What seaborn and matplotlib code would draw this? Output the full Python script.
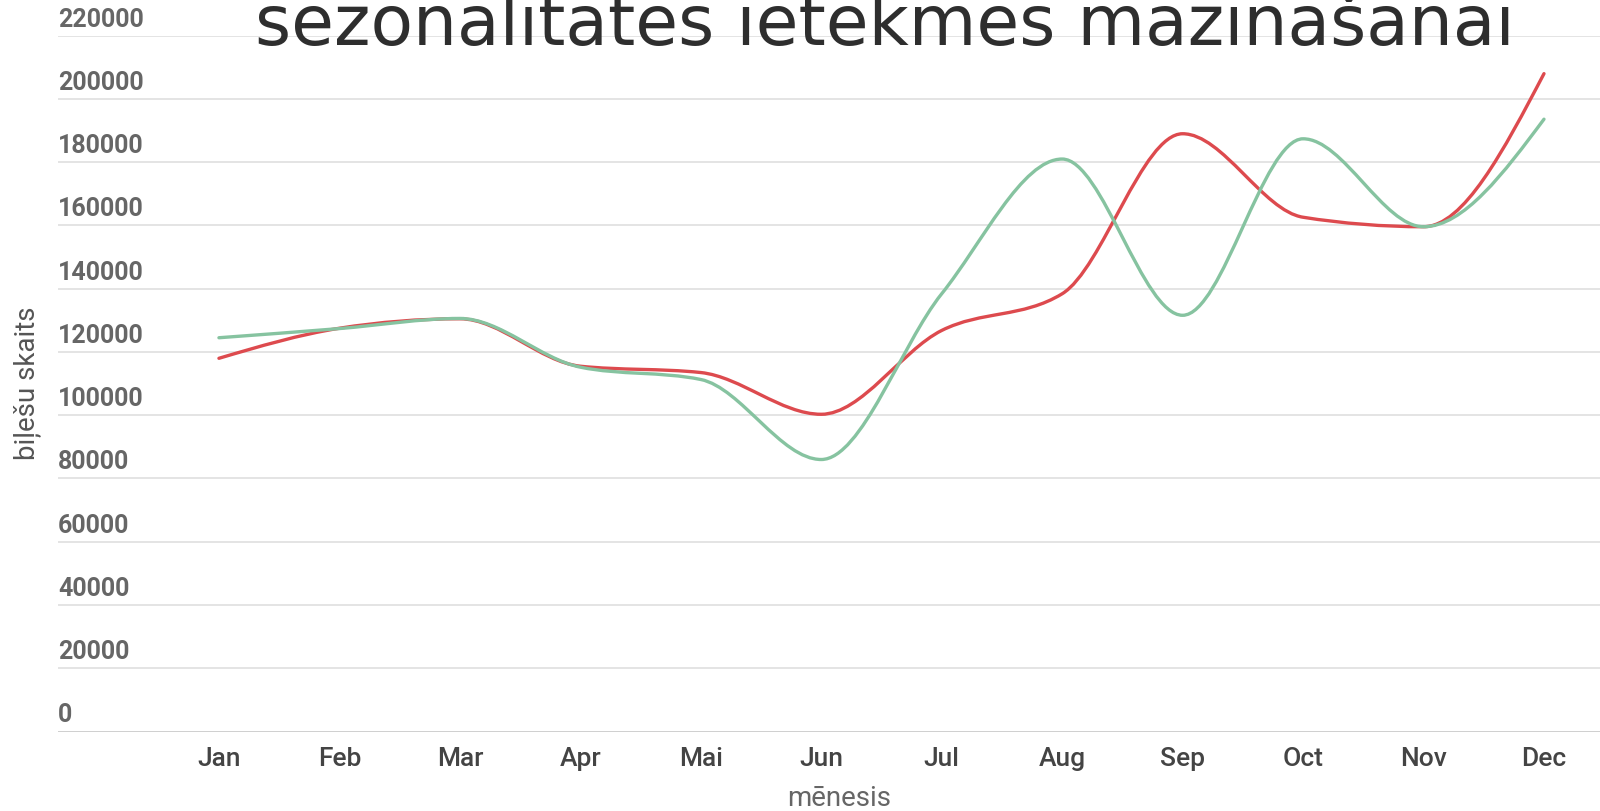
import matplotlib
matplotlib.use("Agg")
import matplotlib.pyplot as plt
from matplotlib.path import Path
from matplotlib.patches import PathPatch
import numpy as np
import pandas as pd
import seaborn as sns

# ── data ──────────────────────────────────────────────────────────────────────
months = ["Jan", "Feb", "Mar", "Apr", "Mai", "Jun",
          "Jul", "Aug", "Sep", "Oct", "Nov", "Dec"]
tickets_red = [118000, 127500, 130500, 115500, 113500, 100300,
               126800, 138400, 189000, 162600, 159600, 208000]
tickets_green = [124500, 127400, 130600, 115200, 111300, 86000,
                 138400, 181000, 131600, 187400, 159600, 193600]
y_ticks = list(range(0, 220001, 20000))

title = "sezonalitātes ietekmes mazināšanai"
x_label = "mēnesis"
y_label = "biļešu skaits"

RED = "#dd4a4e"
GREEN = "#86c3a0"


def monotone_path(xs, ys):
    """Monotone cubic (Steffen) Bezier path through the points, like curveMonotoneX."""
    x = np.asarray(xs, dtype=float)
    y = np.asarray(ys, dtype=float)
    n = len(x)
    h = np.diff(x)
    s = np.diff(y) / h
    t = np.zeros(n)
    for i in range(1, n - 1):
        p = (s[i - 1] * h[i] + s[i] * h[i - 1]) / (h[i - 1] + h[i])
        t[i] = (np.sign(s[i - 1]) + np.sign(s[i])) * min(abs(s[i - 1]), abs(s[i]), 0.5 * abs(p))
    t[0] = (3 * s[0] - t[1]) / 2
    t[-1] = (3 * s[-1] - t[-2]) / 2
    verts = [(x[0], y[0])]
    codes = [Path.MOVETO]
    for i in range(n - 1):
        dx = h[i] / 3
        verts += [(x[i] + dx, y[i] + dx * t[i]),
                  (x[i + 1] - dx, y[i + 1] - dx * t[i + 1]),
                  (x[i + 1], y[i + 1])]
        codes += [Path.CURVE4] * 3
    return Path(verts, codes)


sns.set_theme(style="white")
plt.rcParams["font.family"] = ["Roboto", "DejaVu Sans"]

df = pd.DataFrame({"month": months, "red": tickets_red, "green": tickets_green})
df["pos"] = range(len(months))

fig = plt.figure(figsize=(16, 8.11), dpi=100)
ax = fig.add_axes([58 / 1600, (811 - 731.5) / 811, 1 - 58 / 1600, (731.5 - 35.7) / 811])

for col, color in [("red", RED), ("green", GREEN)]:
    ax.add_patch(PathPatch(monotone_path(df["pos"], df[col]), facecolor="none",
                           edgecolor=color, lw=2.4, capstyle="round", zorder=3))

ax.set_xlim(-1.336, 11.465)
ax.set_ylim(0, 220000)
for s in ax.spines.values():
    s.set_visible(False)

# gridlines with the value written just above each line
for v in y_ticks:
    ax.axhline(v, color="#cccccc" if v == 0 else "#e2e2e2", lw=1.3, zorder=1)
    ax.annotate(f"{v}", xy=(0.0, v), xycoords=ax.get_yaxis_transform(),
                xytext=(0, 3), textcoords="offset points", ha="left", va="bottom",
                fontsize=18, fontweight="bold", color="#666666")
ax.set_yticks([])

ax.set_xticks(df["pos"])
ax.set_xticklabels(months, fontsize=19, fontweight="medium", color="#444444")
ax.tick_params(axis="x", length=0, pad=11)

fig.text(839 / 1600, 1 - 799 / 811, x_label, ha="center", va="center",
         fontsize=20, color="#666666")
fig.text(27 / 1600, 1 - 383 / 811, y_label, ha="center", va="center",
         rotation=90, fontsize=20, color="#555555")

# title sits partly above the canvas, as in the source image
fig.text(885 / 1600, 1 - 45 / 811, title, ha="center", va="baseline",
         fontsize=50, family=["DejaVu Sans"], color="#2e2e2e")

fig.savefig("out.png", dpi=100)
